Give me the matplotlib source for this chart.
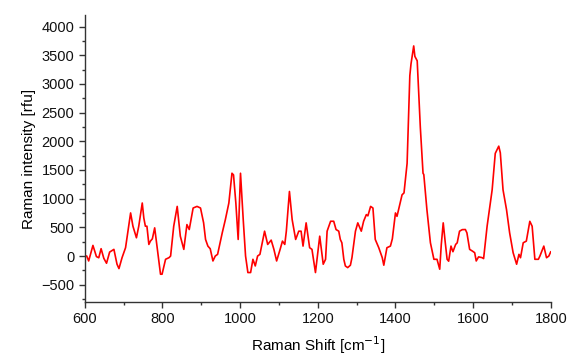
import matplotlib
matplotlib.use("Agg")
import matplotlib.pyplot as plt
from matplotlib.ticker import MultipleLocator

plt.rcParams['font.family'] = ['Liberation Sans', 'DejaVu Sans']

# Raman shift (cm^-1) and intensity (rfu) of the spectrum
shift = [600, 605, 610, 621, 630, 636, 642, 649, 656, 664, 675, 683, 688, 696, 705,
         718, 724, 733, 739, 748, 752, 756, 760, 765, 769, 774, 780, 786, 795, 799,
         808, 817, 821, 829, 838, 846, 855, 863, 869, 879, 889, 898, 906, 911, 917,
         923, 930, 936, 942, 954, 962, 971, 979, 983, 989, 995, 1001, 1008, 1014,
         1020, 1027, 1033, 1039, 1045, 1051, 1063, 1071, 1080, 1087, 1094, 1103,
         1109, 1115, 1119, 1127, 1134, 1143, 1151, 1157, 1162, 1170, 1179, 1185,
         1194, 1205, 1214, 1220, 1224, 1233, 1241, 1247, 1254, 1258, 1262, 1267,
         1271, 1277, 1284, 1288, 1297, 1303, 1312, 1318, 1325, 1329, 1336, 1342,
         1348, 1357, 1366, 1370, 1378, 1387, 1392, 1400, 1404, 1417, 1422, 1430,
         1437, 1440, 1445, 1447, 1450, 1456, 1464, 1471, 1473, 1481, 1490, 1499,
         1507, 1514, 1518, 1523, 1528, 1533, 1537, 1543, 1548, 1555, 1559, 1565,
         1572, 1580, 1584, 1591, 1598, 1604, 1608, 1614, 1623, 1627, 1636, 1649,
         1657, 1666, 1670, 1677, 1686, 1694, 1703, 1712, 1718, 1722, 1729, 1737,
         1746, 1752, 1759, 1768, 1772, 1782, 1789, 1795, 1800]
intensity = [0, 0, -86, 185, -10, -30, 128, -40, -126, 69, 116, -143, -219, -28, 145,
             751, 520, 318, 520, 924, 664, 520, 520, 202, 260, 300, 491, 173, -317, -317,
             -57, -28, 0, 519, 865, 346, 116, 548, 462, 837, 865, 837, 578, 289, 173,
             127, -86, 0, 29, 405, 635, 924, 1443, 1414, 924, 289, 1443, 635, 0,
             -288, -288, -57, -173, 0, 29, 433, 202, 277, 116, -86, 116,
             260, 202, 433, 1125, 635, 289, 433, 433, 173, 578, 145, 116,
             -288, 346, -143, -57, 433, 606, 606, 462, 433, 289, 231, -57,
             -173, -202, -160, -28, 433, 578, 433, 606, 722, 700, 865, 837,
             289, 145, -28, -160, 145, 173, 300, 751, 692, 1067, 1100, 1616,
             3143, 3346, 3576, 3662, 3480, 3403, 2249, 1443, 1420, 808, 232, -57,
             -57, -230, 200, 578, 250, -57, -90, 173, 75, 202, 230, 433,
             460, 462, 404, 116, 87, 58, -86, -15, -28, -45, 519, 1154,
             1789, 1915, 1800, 1154, 808, 405, 58, -143, 29, -30, 231, 260,
             605, 519, -57, -57, 0, 173, -30, 0, 76]

fig = plt.figure(figsize=(5.69, 3.59), dpi=100)
ax = fig.add_axes([0.149, 0.159, 0.819, 0.799])

ax.plot(shift, intensity, color='#ff0000', lw=1.2,
        solid_joinstyle='round', solid_capstyle='round')

ax.set_xlim(600, 1800)
ax.set_ylim(-800, 4200)
ax.xaxis.set_major_locator(MultipleLocator(200))
ax.xaxis.set_minor_locator(MultipleLocator(100))
ax.yaxis.set_major_locator(MultipleLocator(500))
ax.yaxis.set_minor_locator(MultipleLocator(250))

for s in ('top', 'right'):
    ax.spines[s].set_visible(False)
for s in ('left', 'bottom'):
    ax.spines[s].set_linewidth(1.0)
    ax.spines[s].set_color('#333333')

ax.tick_params(which='major', direction='out', length=4, width=1,
               color='#333333', labelsize=10.5, labelcolor='#111111')
ax.tick_params(which='minor', direction='out', length=2.5, width=1,
               color='#333333')

ax.set_xlabel('Raman Shift [cm$^{-1}$]', fontsize=11, labelpad=6)
ax.set_ylabel('Raman intensity [rfu]', fontsize=11, labelpad=4)

fig.savefig('out.png', dpi=100)
